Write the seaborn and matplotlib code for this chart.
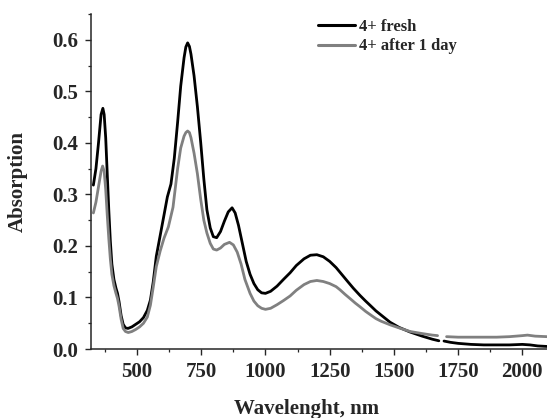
import numpy as np
import pandas as pd
import matplotlib
matplotlib.use("Agg")
import matplotlib.pyplot as plt
from matplotlib.ticker import MultipleLocator, FormatStrFormatter
import seaborn as sns

# Absorption spectra of 4+ (fresh and after 1 day); detector change near 1680-1700 nm
fresh_nm_vis = [330, 340, 350, 360, 367, 372, 378, 384, 390, 396, 402, 410, 418, 424,
                430, 438, 446, 455, 465, 480, 495, 510, 525, 540, 552, 563, 575, 590,
                605, 618, 632, 645, 658, 670, 683, 690, 697, 704, 710, 722, 735, 748,
                760, 772, 785, 797, 810, 825, 840, 855, 870, 882, 895, 910, 925, 940,
                955, 970, 985, 1000, 1020, 1045, 1070, 1096, 1120, 1150, 1175, 1200,
                1225, 1250, 1275, 1300, 1320, 1342, 1368, 1390, 1407, 1430, 1450, 1485,
                1520, 1563, 1610, 1650, 1675]
fresh_abs_vis = [0.318, 0.35, 0.40, 0.455, 0.467, 0.455, 0.41, 0.34, 0.27, 0.21, 0.165,
                 0.135, 0.118, 0.108, 0.092, 0.065, 0.048, 0.041, 0.040, 0.043, 0.048,
                 0.053, 0.061, 0.075, 0.095, 0.13, 0.18, 0.22, 0.26, 0.295, 0.32, 0.37,
                 0.44, 0.51, 0.565, 0.586, 0.594, 0.587, 0.572, 0.53, 0.47, 0.40, 0.33,
                 0.27, 0.235, 0.218, 0.216, 0.228, 0.248, 0.266, 0.274, 0.264, 0.24,
                 0.205, 0.17, 0.145, 0.127, 0.115, 0.109, 0.108, 0.112, 0.122, 0.135,
                 0.148, 0.162, 0.175, 0.182, 0.183, 0.179, 0.170, 0.158, 0.143, 0.131,
                 0.118, 0.104, 0.093, 0.085, 0.074, 0.066, 0.052, 0.042, 0.033, 0.025,
                 0.019, 0.016]
fresh_nm_nir = [1695, 1720, 1750, 1800, 1850, 1900, 1950, 2000, 2030, 2060, 2096]
fresh_abs_nir = [0.0155, 0.013, 0.011, 0.009, 0.008, 0.008, 0.008, 0.009, 0.008, 0.006,
                 0.005]

aged_nm_vis = [330, 340, 350, 360, 366, 372, 378, 384, 390, 396, 402, 410, 418, 424,
               430, 438, 446, 455, 466, 480, 495, 510, 525, 540, 552, 563, 575, 590,
               605, 622, 640, 658, 670, 683, 690, 697, 704, 710, 722, 735, 748, 760,
               772, 785, 797, 810, 825, 840, 860, 875, 890, 905, 920, 940, 955, 970,
               985, 1000, 1020, 1045, 1070, 1096, 1120, 1150, 1175, 1200, 1225, 1250,
               1275, 1290, 1310, 1329, 1350, 1368, 1390, 1407, 1430, 1450, 1485, 1520,
               1563, 1610, 1650, 1670]
aged_abs_vis = [0.264, 0.285, 0.315, 0.345, 0.355, 0.345, 0.31, 0.26, 0.215, 0.175,
                0.145, 0.123, 0.108, 0.098, 0.083, 0.058, 0.040, 0.034, 0.032, 0.034,
                0.038, 0.043, 0.050, 0.062, 0.085, 0.12, 0.16, 0.19, 0.215, 0.237,
                0.275, 0.35, 0.39, 0.413, 0.420, 0.423, 0.420, 0.41, 0.38, 0.34, 0.29,
                0.25, 0.225, 0.205, 0.194, 0.192, 0.196, 0.203, 0.207, 0.202, 0.188,
                0.165, 0.135, 0.108, 0.093, 0.084, 0.079, 0.077, 0.079, 0.086, 0.094,
                0.103, 0.114, 0.125, 0.131, 0.133, 0.131, 0.127, 0.121, 0.115, 0.106,
                0.098, 0.089, 0.082, 0.073, 0.067, 0.059, 0.054, 0.047, 0.041, 0.034,
                0.030, 0.027, 0.026]
aged_nm_nir = [1705, 1750, 1800, 1850, 1900, 1950, 2000, 2020, 2050, 2096]
aged_abs_nir = [0.024, 0.023, 0.023, 0.023, 0.023, 0.024, 0.026, 0.027, 0.025, 0.024]

labels = ["4+ fresh", "4+ after 1 day"]
colors = ["#000000", "#808080"]

x_ticks = [500, 750, 1000, 1250, 1500, 1750, 2000]
y_ticks = [0.0, 0.1, 0.2, 0.3, 0.4, 0.5, 0.6]


def segment(nm, ab, sample, part):
    return pd.DataFrame({"wavelength": nm, "absorption": ab,
                         "sample": sample, "part": part})


df = pd.concat([
    segment(fresh_nm_vis, fresh_abs_vis, labels[0], "vis"),
    segment(fresh_nm_nir, fresh_abs_nir, labels[0], "nir"),
    segment(aged_nm_vis, aged_abs_vis, labels[1], "vis"),
    segment(aged_nm_nir, aged_abs_nir, labels[1], "nir"),
], ignore_index=True)

sns.set_style("ticks")
plt.rcParams["font.family"] = ["Liberation Serif", "DejaVu Serif"]
plt.rcParams["font.weight"] = "bold"
plt.rcParams["axes.labelweight"] = "bold"

fig = plt.figure(figsize=(5.47, 4.18), dpi=100)
ax = fig.add_axes([0.166, 0.165, 0.834, 0.8015])

sns.lineplot(data=df, x="wavelength", y="absorption", hue="sample",
             units="part", estimator=None, palette=dict(zip(labels, colors)),
             hue_order=labels, linewidth=2.0, ax=ax, legend=False)

ax.set_xlim(320, 2096)
ax.set_ylim(0, 0.65)
ax.set_xticks(x_ticks)
ax.set_yticks(y_ticks)
ax.xaxis.set_minor_locator(MultipleLocator(125))
ax.yaxis.set_minor_locator(MultipleLocator(0.05))
ax.yaxis.set_major_formatter(FormatStrFormatter("%.1f"))
ax.tick_params(which="major", direction="out", length=4, width=1.0,
               labelsize=15, pad=5)
ax.tick_params(which="minor", direction="out", length=2.5, width=0.9)
for lab in ax.get_xticklabels() + ax.get_yticklabels():
    lab.set_fontweight("bold")

sns.despine(ax=ax, top=True, right=True)
ax.spines["left"].set_linewidth(1.1)
ax.spines["bottom"].set_linewidth(1.1)

ax.set_xlabel("Wavelenght, nm", fontsize=15, fontweight="bold")
ax.set_ylabel("Absorption", fontsize=15, fontweight="bold")
ax.xaxis.set_label_coords(0.474, -0.148)
ax.yaxis.set_label_coords(-0.138, 0.5)

handles = [plt.Line2D([], [], color=c, linewidth=2.2) for c in colors]
ax.legend(handles, labels, loc="upper left", bbox_to_anchor=(0.499, 0.985),
          frameon=False, borderpad=0, borderaxespad=0, handlelength=2.2,
          handletextpad=0.25, labelspacing=0.2,
          prop={"family": "Liberation Serif", "weight": "bold", "size": 12})

fig.savefig("out.png", dpi=100)
